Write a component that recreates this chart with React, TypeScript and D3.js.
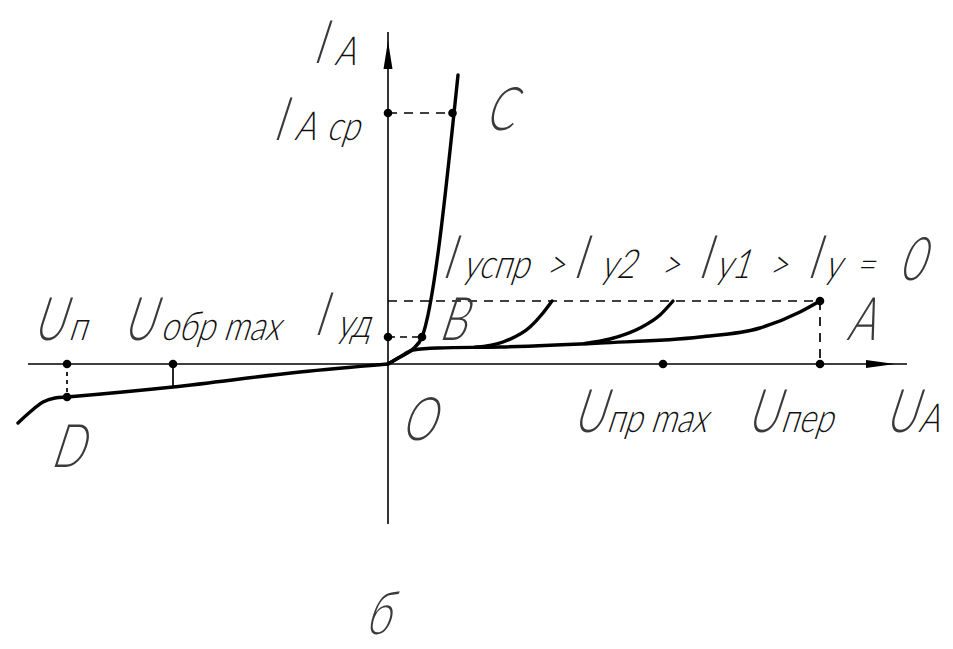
import React from "react";
import * as d3 from "d3";

// Thyristor current–voltage characteristic (arbitrary units)
// Reverse branch (through D)
const U_REV = [-37, -35.8, -34.5, -33.3, -32.1, -21.5, -8.8, 0];
const I_REV = [-5.9, -4.8, -3.8, -3.4, -3.3, -2.3, -0.8, 0];
// Forward off-state branch, Iy = 0 (ends at breakover point A)
const U_OFF = [0, 1.2, 2.5, 5, 11.2, 21.2, 31.2, 37.2, 41.2, 43.2];
const I_OFF = [0, 0.7, 1.4, 1.6, 1.7, 2.1, 2.7, 3.6, 5.2, 6.3];
// Forward branch at gate current Iy1
const U_Y1 = [19.7, 22.2, 25.2, 27.2, 28.5];
const I_Y1 = [2.05, 2.5, 3.6, 4.9, 6.3];
// Forward branch at gate current Iy2 (Iyспр)
const U_Y2 = [8.7, 11.5, 14.2, 15.5, 16.4];
const I_Y2 = [1.68, 2.2, 3.7, 5.1, 6.3];
// On-state branch O–B–C
const U_ON = [0, 1.2, 2.5, 3.4, 7.0];
const I_ON = [0, 0.7, 1.5, 2.7, 28.9];

// Characteristic points
const U_N = -32.1;
const I_D = -3.3;
const U_OBR_MAX = -21.5;
const I_OBR_MAX = -2.3;
const U_PR_MAX = 27.5;
const U_PER = 43.2;
const I_PER = 6.3;
const U_B = 3.4;
const I_UD = 2.7;
const U_CP = 6.45;
const I_A_CP = 25.1;

const W = 953;
const H = 649;

const x = d3.scaleLinear().domain([-38, 52]).range([8, 908]);
const y = d3.scaleLinear().domain([-16, 32.5]).range([524, 39]);

const zip = (us: number[], is: number[]) => us.map((u, k) => [u, is[k]] as [number, number]);
const line = d3
  .line<[number, number]>()
  .x((d) => x(d[0]))
  .y((d) => y(d[1]))
  .curve(d3.curveMonotoneX);

const BIG = 60;
const SUB = 40;
const FONT = "Lato, 'DejaVu Sans', sans-serif";

type Piece = { t: string; px: number; py: number; big?: boolean };

const Txt = ({ t, px, py, big }: Piece) => (
  <g transform={`translate(${px},${py}) skewX(-18) scale(${big ? 0.72 : 0.8},1)`}>
    <text
      x={0}
      y={0}
      fontFamily={FONT}
      fontSize={big ? BIG : SUB}
      fontWeight={300}
      fill={big ? "#3a3a3a" : "#111"}
    >
      {t}
    </text>
  </g>
);

export default function App() {
  const x0 = x(0);
  const y0 = y(0);
  const dash = "9 7";

  const labels: Piece[] = [
    { t: "I", px: 312, py: 63, big: true },
    { t: "A", px: 334, py: 65 },
    { t: "I", px: 272, py: 140, big: true },
    { t: "A", px: 294, py: 140 },
    { t: "ср", px: 326, py: 140 },
    { t: "C", px: 484, py: 130, big: true },
    { t: "I", px: 441, py: 278, big: true },
    { t: "успр", px: 462, py: 278 },
    { t: ">", px: 545, py: 278 },
    { t: "I", px: 572, py: 278, big: true },
    { t: "у2", px: 600, py: 278 },
    { t: ">", px: 660, py: 278 },
    { t: "I", px: 697, py: 278, big: true },
    { t: "у1", px: 715, py: 278 },
    { t: ">", px: 768, py: 278 },
    { t: "I", px: 806, py: 278, big: true },
    { t: "у", px: 824, py: 278 },
    { t: "=", px: 855, py: 278 },
    { t: "0", px: 898, py: 280, big: true },
    { t: "U", px: 32, py: 340, big: true },
    { t: "п", px: 68, py: 340 },
    { t: "U", px: 122, py: 340, big: true },
    { t: "обр max", px: 160, py: 340 },
    { t: "I", px: 313, py: 335, big: true },
    { t: "уд", px: 336, py: 337 },
    { t: "B", px: 438, py: 340, big: true },
    { t: "A", px: 846, py: 340, big: true },
    { t: "D", px: 50, py: 467, big: true },
    { t: "O", px: 400, py: 440, big: true },
    { t: "U", px: 572, py: 432, big: true },
    { t: "пр max", px: 606, py: 432 },
    { t: "U", px: 746, py: 432, big: true },
    { t: "пер", px: 780, py: 432 },
    { t: "U", px: 884, py: 432, big: true },
    { t: "A", px: 918, py: 432 },
    { t: "б", px: 364, py: 634, big: true },
  ];

  const dots: [number, number][] = [
    [0, I_A_CP],
    [U_CP, I_A_CP],
    [0, I_UD],
    [U_B, I_UD],
    [U_N, 0],
    [U_N, I_D],
    [U_OBR_MAX, 0],
    [U_PR_MAX, 0],
    [U_PER, 0],
    [U_PER, I_PER],
  ];

  return (
    <svg width={W} height={H} style={{ position: "absolute", left: 0, top: 0, background: "#fff" }}>
      <rect width={W} height={H} fill="#fff" />
      {/* axes */}
      <line x1={x0} y1={y(32.5) - 7} x2={x0} y2={y(-16)} stroke="#000" strokeWidth={1.6} />
      <line x1={x(-36)} y1={y0} x2={x(51.9)} y2={y0} stroke="#000" strokeWidth={1.6} />
      <path d={`M${x0},${y(32.5) + 2} L${x0 - 4.5},${y(32.5) + 30} L${x0 + 4.5},${y(32.5) + 30} Z`} fill="#000" />
      <path d={`M${x(50.7)},${y0} L${x(47.8)},${y0 - 4} L${x(47.8)},${y0 + 4} Z`} fill="#000" />

      {/* guide lines */}
      <g stroke="#000" strokeWidth={1.7} fill="none">
        <line x1={x0} y1={y(I_PER)} x2={x(U_PER)} y2={y(I_PER)} strokeDasharray={dash} />
        <line x1={x(U_PER)} y1={y(I_PER)} x2={x(U_PER)} y2={y0} strokeDasharray={dash} />
        <line x1={x0} y1={y(I_A_CP)} x2={x(U_CP)} y2={y(I_A_CP)} strokeDasharray={dash} />
        <line x1={x0} y1={y(I_UD)} x2={x(U_B)} y2={y(I_UD)} strokeDasharray="7 5" />
        <line x1={x(U_N)} y1={y0} x2={x(U_N)} y2={y(I_D)} strokeDasharray="4 4" />
        <line x1={x(U_OBR_MAX)} y1={y0} x2={x(U_OBR_MAX)} y2={y(I_OBR_MAX)} />
      </g>

      {/* characteristic branches */}
      <g stroke="#000" strokeWidth={3.4} fill="none" strokeLinejoin="round" strokeLinecap="round">
        <path d={line(zip(U_REV, I_REV)) ?? ""} />
        <path d={line(zip(U_OFF, I_OFF)) ?? ""} />
        <path d={line(zip(U_Y1, I_Y1)) ?? ""} />
        <path d={line(zip(U_Y2, I_Y2)) ?? ""} />
        <path d={line(zip(U_ON, I_ON)) ?? ""} />
      </g>

      {dots.map((d, k) => (
        <circle key={k} cx={x(d[0])} cy={y(d[1])} r={4.3} fill="#000" />
      ))}

      {labels.map((p, k) => (
        <Txt key={k} {...p} />
      ))}
    </svg>
  );
}
